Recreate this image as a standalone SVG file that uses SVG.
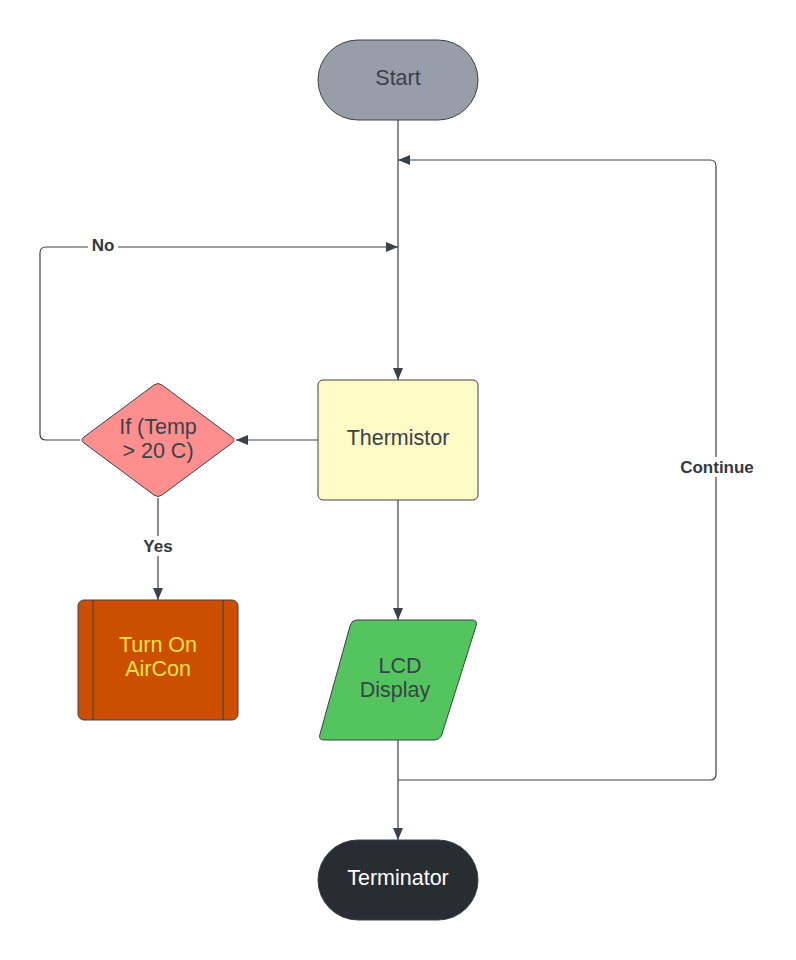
<svg xmlns="http://www.w3.org/2000/svg" width="796" height="960" viewBox="0 0 796 960">
<style>
.n{stroke:#3a414a;stroke-width:1}
.t{font-family:"Liberation Sans",Arial,sans-serif;font-size:21.5px;fill:#3a414a;text-anchor:middle}
.c{fill:none;stroke:#3a414a;stroke-width:1.2}
.l{font-family:"Liberation Sans",Arial,sans-serif;font-size:17px;font-weight:bold;fill:#333840;text-anchor:middle}
</style>
<defs>
<marker id="a" viewBox="0 0 12 12" refX="12" refY="6" markerWidth="12" markerHeight="12" markerUnits="userSpaceOnUse" orient="auto">
<path d="M0,1 L12,6 L0,11 Z" fill="#3a414a"/>
</marker>
</defs>
<rect width="796" height="960" fill="#ffffff"/>
<g id="connectors">
<path class="c" d="M398,120 V380" marker-end="url(#a)"/>
<path class="c" d="M398,500 V620" marker-end="url(#a)"/>
<path class="c" d="M398,740 V840" marker-end="url(#a)"/>
<path class="c" d="M398,780 H710 Q716,780 716,774 V166 Q716,160 710,160 H398" marker-end="url(#a)"/>
<path class="c" d="M318,440 H236" marker-end="url(#a)"/>
<path class="c" d="M80,440 H46 Q40,440 40,434 V253 Q40,247 46,247 H398" marker-end="url(#a)"/>
<path class="c" d="M158,498 V600" marker-end="url(#a)"/>
<rect x="88" y="236" width="30" height="18" fill="#ffffff"/>
<text class="l" x="103" y="251">No</text>
<rect x="138" y="536" width="40" height="20" fill="#ffffff"/>
<text class="l" x="158" y="552">Yes</text>
<rect x="676" y="457" width="82" height="20" fill="#ffffff"/>
<text class="l" x="717" y="473">Continue</text>
</g>
<g id="start">
<rect class="n" x="318" y="40" width="160" height="80" rx="40" fill="#979ea8"/>
<text class="t" x="398" y="85">Start</text>
</g>
<g id="thermistor">
<rect class="n" x="318" y="380" width="160" height="120" rx="5" fill="#fffbc7"/>
<text class="t" x="398" y="445">Thermistor</text>
</g>
<g id="decision">
<path class="n" d="M154,385 Q158,382 162,385 L232,437 Q236,440 232,443 L162,495 Q158,498 154,495 L84,443 Q80,440 84,437 Z" fill="#ff8f8f"/>
<text class="t" x="158" y="434">If (Temp</text>
<text class="t" x="158" y="458">&gt; 20 C)</text>
</g>
<g id="aircon">
<rect class="n" x="78" y="600" width="160" height="120" rx="6" fill="#cc4e00"/>
<line class="n" x1="93" y1="600" x2="93" y2="720"/>
<line class="n" x1="223" y1="600" x2="223" y2="720"/>
<text class="t" x="158" y="652" style="fill:#ffe342">Turn On</text>
<text class="t" x="158" y="676" style="fill:#ffe342">AirCon</text>
</g>
<g id="lcd">
<path class="n" d="M356,620 H472 Q478,620 476,626 L442,734 Q440,740 434,740 H324 Q318,740 320,734 L350,626 Q352,620 356,620 Z" fill="#54c45e"/>
<text class="t" x="400" y="673">LCD</text>
<text class="t" x="395" y="697">Display</text>
</g>
<g id="terminator">
<rect class="n" x="318" y="840" width="160" height="80" rx="40" fill="#282c33"/>
<text class="t" x="398" y="885" style="fill:#ffffff">Terminator</text>
</g>
</svg>
